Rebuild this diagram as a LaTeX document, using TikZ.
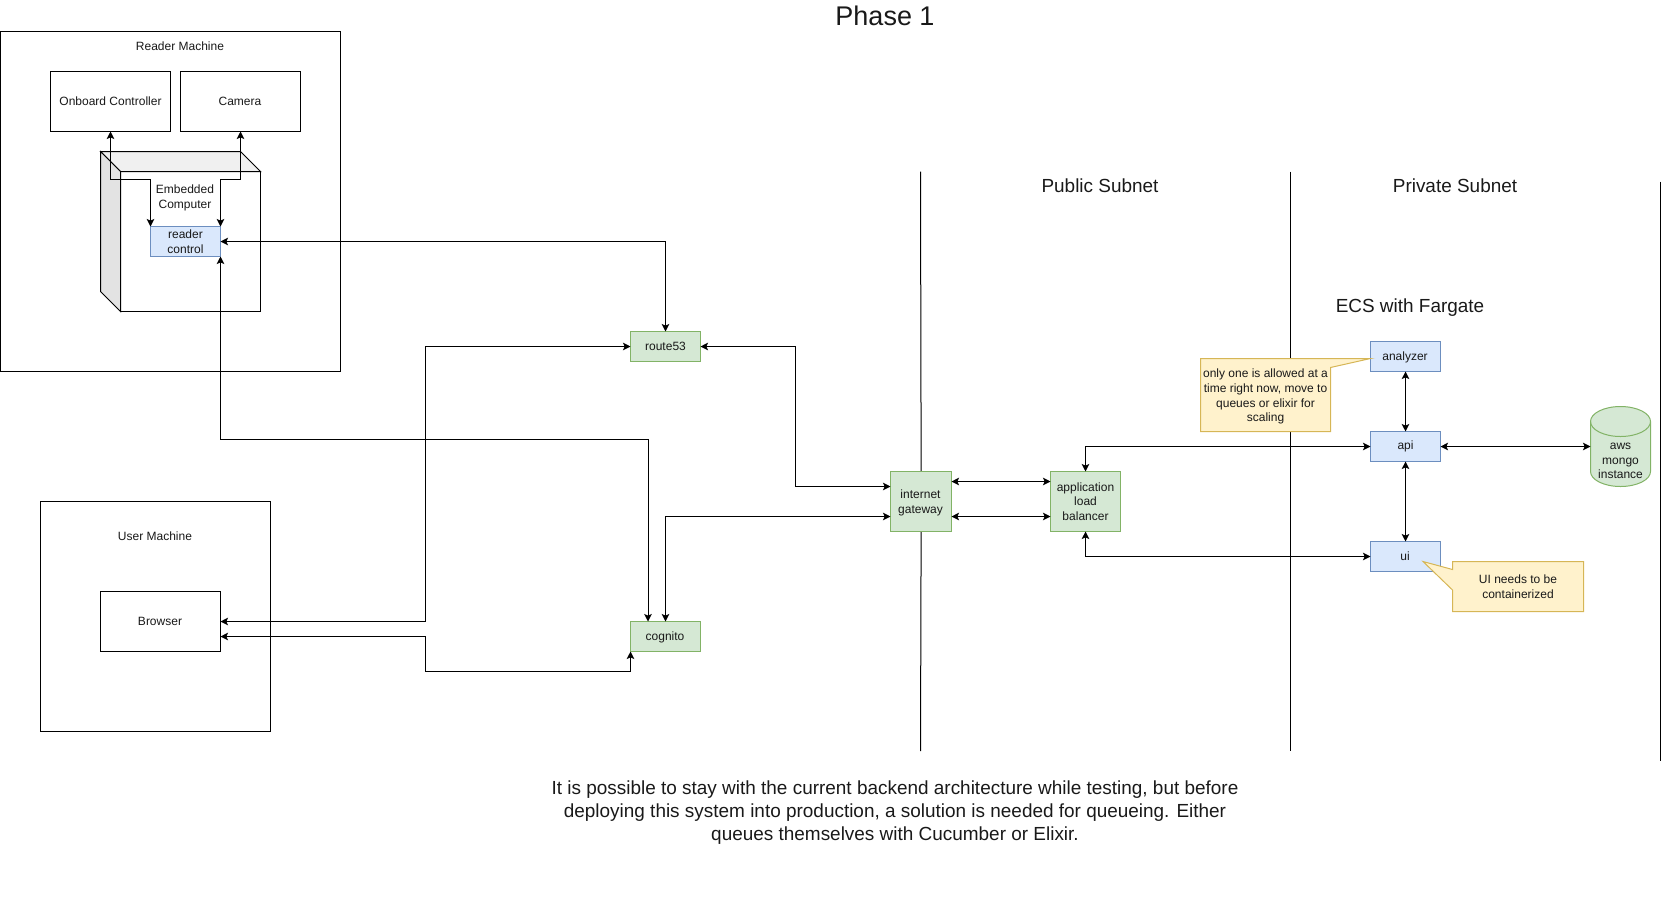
\documentclass[tikz,border=0pt]{standalone}
\usepackage{fontspec}
\setmainfont{Liberation Sans}
\usetikzlibrary{arrows.meta}
\tikzset{
  every node/.style={outer sep=0pt},
  base/.style={font=\fontsize{12pt}{14.8pt}\selectfont,align=center,inner sep=0pt,text=black!90},
  box/.style={base,draw=black,line width=1pt,fill=white},
  blu/.style={base,draw=blueline,fill=bluefill,line width=1pt},
  grn/.style={base,draw=greenline,fill=greenfill,line width=1pt},
  note/.style={draw=yellowline,fill=yellowfill,line width=1pt},
  lbl/.style={base},
  big/.style={base,font=\fontsize{18.95pt}{22.9pt}\selectfont},
  wire/.style={line width=1pt,draw=black,rounded corners=0pt},
  bi/.style={wire,{Stealth[length=7.5pt,width=7.5pt,inset=1.6pt]}-{Stealth[length=7.5pt,width=7.5pt,inset=1.6pt]}},
  sep/.style={line width=1pt,draw=black}
}
\definecolor{bluefill}{HTML}{DAE8FC}\definecolor{blueline}{HTML}{6C8EBF}
\definecolor{greenfill}{HTML}{D5E8D4}\definecolor{greenline}{HTML}{82B366}
\definecolor{yellowfill}{HTML}{FFF2CC}\definecolor{yellowline}{HTML}{D6B656}
\begin{document}
\begin{tikzpicture}[x=1pt,y=-1pt]
\useasboundingbox (0,0) rectangle (1663,922);
% separators
\coordinate (s1a) at (920.5,171.5); \coordinate (s1m) at (921.2,501.5); \coordinate (s1b) at (920.5,751);
\coordinate (s2a) at (1290.5,171.5); \coordinate (s2b) at (1290.5,751);
\coordinate (s3a) at (1660.5,181.5); \coordinate (s3b) at (1660.5,761);
\draw[sep] (s1a)--(s1m)--(s1b); \draw[sep] (s2a)--(s2b); \draw[sep] (s3a)--(s3b);
% titles
\node[big,font=\fontsize{27pt}{30pt}\selectfont] (title) at (885,16) {Phase 1};
\node[big] (pub) at (1100,186) {Public Subnet};
\node[big] (priv) at (1455,186) {Private Subnet};
\node[big] (ecs) at (1410,308) {ECS with Fargate};
\node[big] (foot) at (895,812.5) {It is possible to stay with the current backend architecture while testing, but before\\deploying this system into production, a solution is needed for queueing. Either\\queues themselves with Cucumber or Elixir.};
% reader machine
\node[box,minimum width=340pt,minimum height=340pt] (rm) at (170.5,201.5) {};
\node[lbl] (rmt) at (180,46) {Reader Machine};
\node[box,minimum width=120pt,minimum height=60pt] (oc) at (110.5,101.5) {};
\node[lbl] (oct) at (110.5,101.5) {Onboard Controller};
\node[box,minimum width=120pt,minimum height=60pt] (cam) at (240.5,101.5) {};
\node[lbl] (camt) at (240,101) {Camera};
% cube
\draw[line width=1pt,fill=white] (120.5,171.5) rectangle (260.5,311.5);
\draw[line width=1pt,fill=black!6] (100.5,151.5)--(240.5,151.5)--(260.5,171.5)--(120.5,171.5)--cycle;
\draw[line width=1pt,fill=black!11] (100.5,151.5)--(120.5,171.5)--(120.5,311.5)--(100.5,291.5)--cycle;
\node[lbl] (ec) at (185,198) {Embedded\\Computer};
\node[blu,minimum width=70pt,minimum height=30pt] (rc) at (185.5,241.5) {reader\\control};
% user machine
\node[box,minimum width=230pt,minimum height=230pt] (um) at (155.5,616.5) {};
\node[lbl] (umt) at (155,536) {User Machine};
\node[box,minimum width=120pt,minimum height=60pt] (br) at (160.5,621.5) {};
\node[lbl] (brt) at (160,621) {Browser};
% services
\node[grn,minimum width=70pt,minimum height=30pt] (r53) at (665.5,346.5) {route53};
\node[grn,minimum width=70pt,minimum height=30pt] (cg) at (665.5,636.5) {};
\node[lbl] (cgt) at (665,637.5) {cognito};
\node[grn,minimum width=61pt,minimum height=60pt] (igw) at (921,501.5) {};
\node[lbl] (igwt) at (920.5,502.5) {internet\\gateway};
\node[grn,minimum width=70pt,minimum height=60pt] (alb) at (1085.5,501.5) {application\\load\\balancer};
\node[blu,minimum width=70pt,minimum height=30pt] (an) at (1405.5,356.5) {};
\node[lbl] (ant) at (1405,357) {analyzer};
\node[blu,minimum width=70pt,minimum height=30pt] (api) at (1405.5,446.5) {api};
\node[blu,minimum width=70pt,minimum height=30pt] (ui) at (1405.5,556.5) {};
\node[lbl] (uit) at (1405,556) {ui};
% cylinder
\draw[line width=1pt,draw=greenline,fill=greenfill] (1590.5,421.5) arc[start angle=180,end angle=0,x radius=30,y radius=-15] -- (1650.5,471.5) arc[start angle=0,end angle=-180,x radius=30,y radius=-15] -- cycle;
\draw[line width=1pt,draw=greenline] (1590.5,421.5) arc[start angle=180,end angle=360,x radius=30,y radius=-15];
\node[minimum width=60pt,minimum height=80pt,inner sep=0pt] (mg) at (1620.5,446.5) {};
\node[lbl] (mgt) at (1620.5,461) {aws\\mongo\\instance};
% notes
\draw[note] (1200.5,358.5)--(1370.5,358.5)--(1330.5,367.5)--(1330.5,431.5)--(1200.5,431.5)--cycle;
\node[lbl] (n1) at (1265.5,396.5) {only one is allowed at a\\time right now, move to\\queues or elixir for\\scaling};
\draw[note] (1452.5,561.5)--(1583.5,561.5)--(1583.5,611.5)--(1452.5,611.5)--(1452.5,590)--(1423,561.5)--(1452.5,569.5)--cycle;
\node[lbl] (n2) at (1518,587) {UI needs to be\\containerized};
% connectors
\draw[bi] (oc.south) -- ++(0,47.5) -| (rc.north west);
\draw[bi] (cam.south) -- ++(0,47.5) -| (rc.north east);
\draw[bi] (rc.east) -| (r53.north);
\coordinate (j1) at (425.5,346.5);
\draw[bi] (br.east) -- (j1 |- br.east) -- (j1) -- (r53.west);
\coordinate (j2) at (425.5,671);
\coordinate (br2) at ([yshift=-15pt]br.east);
\draw[bi] (br2) -- (j2 |- br2) -- (j2) -| (cg.south west);
\coordinate (j3) at (220.5,439);
\draw[bi] (rc.south east) -- (rc.south east |- j3) -| ([xshift=17.5pt]cg.north west);
\coordinate (j4) at (795.5,346.5);
\draw[bi] (r53.east) -- (j4) |- ([yshift=-15pt]igw.north west);
\draw[bi] (cg.north) |- ([yshift=-45pt]igw.north west);
\draw[bi] ([yshift=-10pt]igw.north east) -- ([yshift=-10pt]alb.north west);
\draw[bi] ([yshift=-45pt]igw.north east) -- ([yshift=-45pt]alb.north west);
\draw[bi] (alb.north) |- (api.west);
\draw[bi] (alb.south) |- (ui.west);
\draw[bi] (an.south) -- (api.north);
\draw[bi] (api.south) -- (ui.north);
\draw[bi] (api.east) -- (mg.west);
\end{tikzpicture}
\end{document}
